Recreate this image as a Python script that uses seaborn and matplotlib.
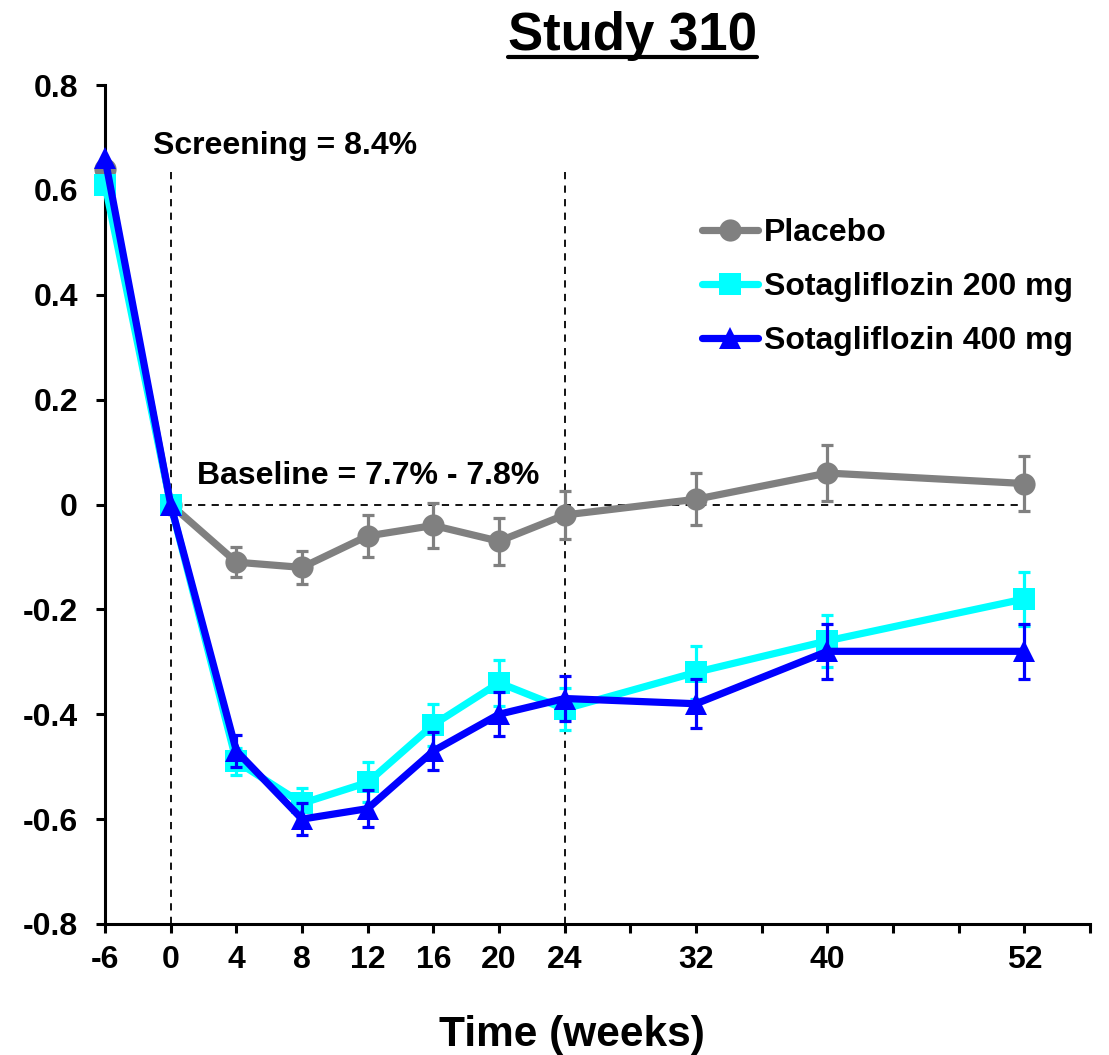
import matplotlib
matplotlib.use('Agg')
import matplotlib.pyplot as plt
import pandas as pd
import seaborn as sns
from matplotlib.lines import Line2D

# Data (change in HbA1c, %)
weeks = [-6, 0, 4, 8, 12, 16, 20, 24, 32, 40, 52]
placebo = [0.64, 0.0, -0.11, -0.12, -0.06, -0.04, -0.07, -0.02, 0.01, 0.06, 0.04]
placebo_se = [0, 0, 0.028, 0.032, 0.04, 0.043, 0.045, 0.045, 0.05, 0.053, 0.052]
sota200 = [0.61, 0.0, -0.49, -0.57, -0.53, -0.42, -0.34, -0.39, -0.32, -0.26, -0.18]
sota200_se = [0, 0, 0.025, 0.03, 0.038, 0.04, 0.044, 0.04, 0.05, 0.05, 0.052]
sota400 = [0.66, 0.0, -0.47, -0.60, -0.58, -0.47, -0.40, -0.37, -0.38, -0.28, -0.28]
sota400_se = [0, 0, 0.03, 0.03, 0.035, 0.037, 0.042, 0.042, 0.047, 0.052, 0.052]

series_names = ['Placebo', 'Sotagliflozin 200 mg', 'Sotagliflozin 400 mg']
colors = ['#808080', '#00FFFF', '#0000FF']
markers = ['o', 's', '^']

xtick_pos = list(range(-4, 57, 4))
xtick_labels = {-4: '-6', 0: '0', 4: '4', 8: '8', 12: '12', 16: '16', 20: '20',
                24: '24', 32: '32', 40: '40', 52: '52'}
ytick_vals = [-0.8, -0.6, -0.4, -0.2, 0, 0.2, 0.4, 0.6, 0.8]
ytick_labels = ['-0.8', '-0.6', '-0.4', '-0.2', '0', '0.2', '0.4', '0.6', '0.8']

# screening week (-6) is drawn one tick left of 0 (axis break)
xpos = [w if w >= 0 else -4 for w in weeks]

sns.set_style('ticks')
plt.rcParams['font.family'] = ['Liberation Sans', 'DejaVu Sans']
plt.rcParams['font.weight'] = 'bold'
for k in ['text.color', 'axes.labelcolor', 'xtick.color', 'ytick.color']:
    plt.rcParams[k] = 'black'

fig = plt.figure(figsize=(11.09, 10.55), dpi=100)
ax = fig.add_axes([0.0947, 0.1242, 0.8883, 0.7952])

vals = [placebo, sota200, sota400]
errs = [placebo_se, sota200_se, sota400_se]
for i, name in enumerate(series_names):
    df = pd.DataFrame({'x': xpos, 'y': vals[i], 'se': errs[i]})
    eb = df[df['se'] > 0]
    ax.errorbar(eb['x'], eb['y'], yerr=eb['se'], fmt='none', ecolor=colors[i],
                elinewidth=2.3, capsize=4.5, capthick=2.3, zorder=3 + 2 * i)
    sns.lineplot(data=df, x='x', y='y', ax=ax, color=colors[i], marker=markers[i],
                 markersize=16, markeredgewidth=0, linewidth=5.2, label=name,
                 zorder=4 + 2 * i, clip_on=False)

# reference lines
ax.plot([0, 0], [-0.8, 0.635], ls=(0, (4, 3.5)), color='black', lw=1.3, zorder=1)
ax.plot([24, 24], [-0.8, 0.635], ls=(0, (4, 3.5)), color='black', lw=1.3, zorder=1)
ax.plot([0, 52], [0, 0], ls=(0, (4, 3.5)), color='black', lw=1.3, zorder=1)

ax.text(-1.05, 0.683, 'Screening = 8.4%', fontsize=23, fontweight='bold',
        va='center', ha='left')
ax.text(1.6, 0.055, 'Baseline = 7.7% - 7.8%', fontsize=23, fontweight='bold',
        va='center', ha='left')

ax.set_xlim(-4, 56)
ax.set_ylim(-0.8, 0.8)
ax.set_xticks(xtick_pos)
ax.set_xticklabels([xtick_labels.get(p, '') for p in xtick_pos])
ax.set_yticks(ytick_vals)
ax.set_yticklabels(ytick_labels)
ax.tick_params(axis='both', labelsize=23, width=2.2, length=6.5, direction='out')
ax.tick_params(axis='x', pad=9)
ax.tick_params(axis='y', pad=13)
for lab in ax.get_xticklabels() + ax.get_yticklabels():
    lab.set_fontweight('bold')
sns.despine(ax=ax)
for s in ['left', 'bottom']:
    ax.spines[s].set_linewidth(2.2)
    ax.spines[s].set_color('black')

ax.set_xlabel('Time (weeks)', fontsize=30.5, fontweight='bold')
ax.xaxis.set_label_coords(0.474, -0.108)
ax.set_ylabel('')

leg = ax.legend(loc='upper left', bbox_to_anchor=(0.606, 0.841), frameon=False,
                fontsize=23, handlelength=1.75, handletextpad=0.2,
                labelspacing=0.75, borderaxespad=0, borderpad=0)
for t in leg.get_texts():
    t.set_fontweight('bold')

title = fig.text(0.57, 0.966, 'Study 310', fontsize=38, fontweight='bold',
                 ha='center', va='center')
fig.canvas.draw()
bb = title.get_window_extent().transformed(fig.transFigure.inverted())
fig.add_artist(Line2D([bb.x0, bb.x1], [bb.y0 + 0.004, bb.y0 + 0.004],
                      transform=fig.transFigure, color='black', lw=3))

fig.savefig('out.png', dpi=100)
